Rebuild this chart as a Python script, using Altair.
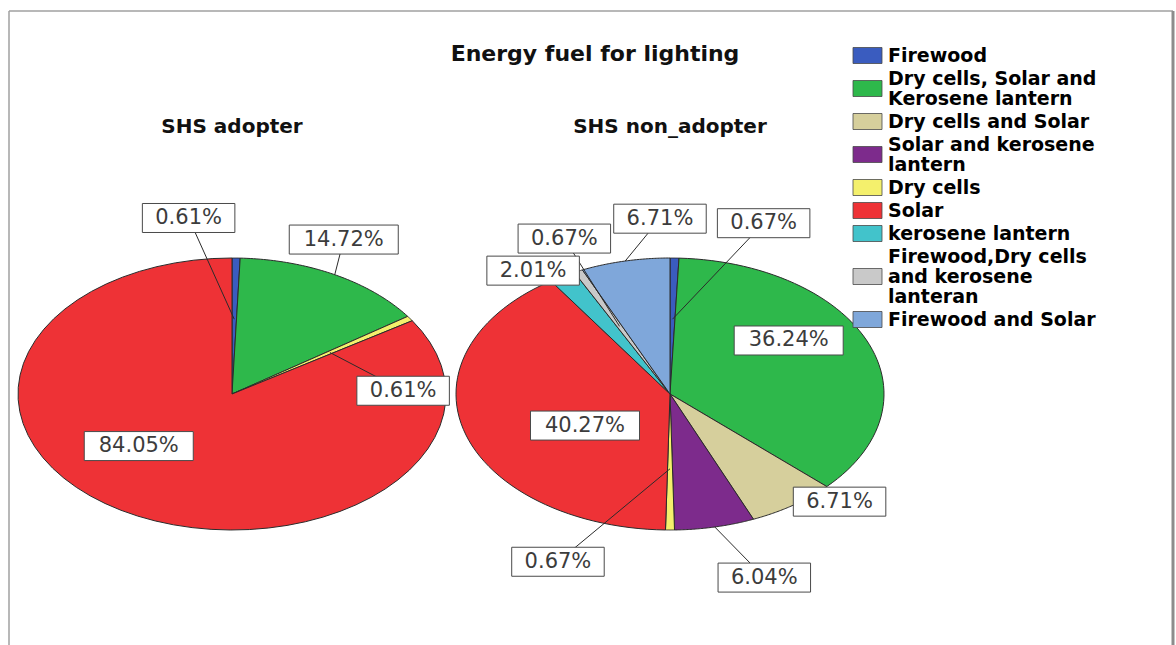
import altair as alt
import pandas as pd

W, H = 1176, 645

# ---------------- data ----------------
TITLE = "Energy fuel for lighting"
PANELS = ["SHS adopter", "SHS non_adopter"]

CATEGORIES = [
    "Firewood",
    "Dry cells, Solar and Kerosene lantern",
    "Dry cells and Solar",
    "Solar and kerosene lantern",
    "Dry cells",
    "Solar",
    "kerosene lantern",
    "Firewood,Dry cells and kerosene lanteran",
    "Firewood and Solar",
]
LEGEND_LINES = [
    ["Firewood"],
    ["Dry cells, Solar and", "Kerosene lantern"],
    ["Dry cells and Solar"],
    ["Solar and kerosene", "lantern"],
    ["Dry cells"],
    ["Solar"],
    ["kerosene lantern"],
    ["Firewood,Dry cells", "and kerosene", "lanteran"],
    ["Firewood and Solar"],
]
COLORS = ["#3a5cbf", "#2eb84b", "#d6cf9c", "#7d2b8c", "#f4f06c",
          "#ee3236", "#42c3cb", "#c9c9c9", "#7fa7da"]

ADOPTER_CATS = ["Firewood", "Dry cells, Solar and Kerosene lantern", "Dry cells", "Solar"]
ADOPTER_PCT = [0.61, 14.72, 0.61, 84.05]

NON_ADOPTER_CATS = CATEGORIES
NON_ADOPTER_PCT = [0.67, 36.24, 6.71, 6.04, 0.67, 40.27, 2.01, 0.67, 6.71]

# ---------------- layout (not data) ----------------
PIE_CX = [232, 670]
PIE_CY = 394
RX, RY = 214, 136          # stretched (elliptical) pies as in the original
N = 60                     # arc resolution

# label placement: angular nudge from slice mid-angle (deg) and radial factor
ADOPTER_LABEL_NUDGE = [-10, -4, 32, 20]
ADOPTER_LABEL_R = [1.31, 1.25, 0.80, 0.58]
NON_ADOPTER_LABEL_NUDGE = [18, -13, -10, -6, 23, -14, -5, 2, 10]
NON_ADOPTER_LABEL_R = [1.33, 0.68, 1.12, 1.42, 1.34, 0.46, 1.11, 1.245, 1.29]

rows = []
for panel, cats, pcts, nud, lrs in [
    (PANELS[0], ADOPTER_CATS, ADOPTER_PCT, ADOPTER_LABEL_NUDGE, ADOPTER_LABEL_R),
    (PANELS[1], NON_ADOPTER_CATS, NON_ADOPTER_PCT, NON_ADOPTER_LABEL_NUDGE, NON_ADOPTER_LABEL_R),
]:
    for c, p, n_, r_ in zip(cats, pcts, nud, lrs):
        rows.append({"panel": panel, "category": c, "order": CATEGORIES.index(c),
                     "pct": p, "label": f"{p:.2f}%", "nudge": n_, "lr": r_})
slices = pd.DataFrame(rows)

# legend rows (line positions computed from line counts)
leg_sq, leg_txt = [], []
y = 55.5
LINE_H, ITEM_STEP = 20, 23
for cat, lines in zip(CATEGORIES, LEGEND_LINES):
    ys = [y + j * LINE_H for j in range(len(lines))]
    for t, yy in zip(lines, ys):
        leg_txt.append({"text": t, "y": yy})
    mid = sum(ys) / len(ys)
    leg_sq.append({"category": cat, "y0": mid - 8, "y1": mid + 8})
    y = ys[-1] + ITEM_STEP
leg_sq = pd.DataFrame(leg_sq)
leg_txt = pd.DataFrame(leg_txt)

XS = alt.Scale(domain=[0, W], range=[0, W], nice=False, zero=False)
YS = alt.Scale(domain=[0, H], range=[0, H], nice=False, zero=False)
CS = alt.Scale(domain=CATEGORIES, range=COLORS)


def X(f):
    return alt.X(f, type="quantitative", scale=XS, axis=None)


def Y(f):
    return alt.Y(f, type="quantitative", scale=YS, axis=None)


base = (
    alt.Chart(slices)
    .transform_joinaggregate(total="sum(pct)", groupby=["panel"])
    .transform_window(cum="sum(pct)", sort=[alt.SortField("order")],
                      groupby=["panel"], frame=[None, 0])
    .transform_calculate(
        a0="2*PI*(datum.cum - datum.pct)/datum.total",
        a1="2*PI*datum.cum/datum.total",
        mid="(datum.a0 + datum.a1)/2",
        cx=f"datum.panel == '{PANELS[0]}' ? {PIE_CX[0]} : {PIE_CX[1]}",
    )
)

pie = (
    base.transform_calculate(k=f"sequence(0, {N + 2})")
    .transform_flatten(["k"])
    .transform_calculate(
        t=f"clamp((datum.k - 1)/{N - 1}, 0, 1)",
        ang="datum.a0 + (datum.a1 - datum.a0)*datum.t",
        rr=f"(datum.k == 0 || datum.k == {N + 1}) ? 0 : 1",
        px=f"datum.cx + {RX}*datum.rr*sin(datum.ang)",
        py=f"{PIE_CY} - {RY}*datum.rr*cos(datum.ang)",
    )
    .mark_line(stroke="#2b2b2b", strokeWidth=1, strokeJoin="round")
    .encode(
        x=X("px"), y=Y("py"),
        fill=alt.Fill("category:N", scale=CS, legend=None),
        detail="panel:N",
        order=alt.Order("k:Q"),
    )
)

lab = base.transform_calculate(
    la="datum.mid + datum.nudge*PI/180",
    lx=f"datum.cx + {RX}*datum.lr*sin(datum.la)",
    ly=f"{PIE_CY} - {RY}*datum.lr*cos(datum.la)",
    bw="length(datum.label)*16.5 + 10",
    bx0="datum.lx - datum.bw/2",
    bx1="datum.lx + datum.bw/2",
    by0="datum.ly - 14.5",
    by1="datum.ly + 14.5",
    er="datum.pct < 1 ? 0.55 : 1.0",
    ex=f"datum.cx + {RX}*datum.er*sin(datum.mid)",
    ey=f"{PIE_CY} - {RY}*datum.er*cos(datum.mid)",
)

leaders = lab.transform_filter("datum.pct < 20").mark_rule(
    color="#2b2b2b", strokeWidth=1).encode(x=X("lx"), y=Y("ly"), x2="ex:Q", y2="ey:Q")
boxes = lab.mark_rect(fill="white", stroke="#4a4a4a", strokeWidth=1).encode(
    x=X("bx0"), x2="bx1:Q", y=Y("by0"), y2="by1:Q")
texts = lab.mark_text(font="DejaVu Sans", fontSize=21, color="#3c3c3c",
                      align="center", baseline="middle").encode(
    x=X("lx"), y=Y("ly"), text="label:N")

legend_sq = alt.Chart(leg_sq).mark_rect(stroke="#4a4a4a", strokeWidth=1, strokeOpacity=0.8).encode(
    x=alt.value(853), x2=alt.value(882), y=Y("y0"), y2="y1:Q",
    fill=alt.Fill("category:N", scale=CS, legend=None))
legend_txt = alt.Chart(leg_txt).mark_text(
    font="DejaVu Sans", fontWeight="bold", fontSize=19, color="black",
    align="left", baseline="middle").encode(x=alt.value(888), y=Y("y"), text="text:N")

one = pd.DataFrame({"a": [0]})
title = alt.Chart(pd.DataFrame({"t": [TITLE]})).mark_text(
    font="DejaVu Sans", fontWeight="bold", fontSize=22, color="#111",
    align="center", baseline="middle").encode(x=alt.value(595), y=alt.value(54), text="t:N")
subtitles = alt.Chart(pd.DataFrame({"t": PANELS, "cx": PIE_CX})).mark_text(
    font="DejaVu Sans", fontWeight="bold", fontSize=20, color="#111",
    align="center", baseline="middle").encode(x=X("cx"), y=alt.value(127), text="t:N")

frame_top = alt.Chart(one).mark_rule(color="#a0a0a0", strokeWidth=1.5).encode(
    x=alt.value(9), x2=alt.value(1173), y=alt.value(11))
frame_left = alt.Chart(one).mark_rule(color="#a0a0a0", strokeWidth=1.5).encode(
    x=alt.value(9), y=alt.value(11), y2=alt.value(H))
frame_right = alt.Chart(one).mark_rule(color="#8c8c8c", strokeWidth=3).encode(
    x=alt.value(1173), y=alt.value(11), y2=alt.value(H))

chart = (
    alt.layer(frame_top, frame_left, frame_right, pie, leaders, boxes, texts,
              legend_sq, legend_txt, title, subtitles)
    .properties(width=W, height=H, padding=0,
                autosize=alt.AutoSizeParams(type="none"), background="white")
    .configure_view(stroke=None)
)

chart.save("out.html", embed_options={"renderer": "svg", "actions": False})
